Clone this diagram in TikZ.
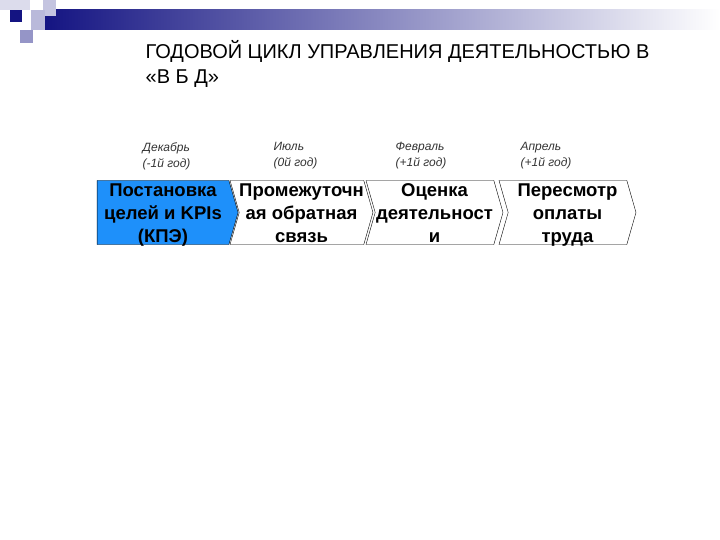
\documentclass[tikz,border=0pt]{standalone}
\usepackage{fontspec}
\setmainfont{Liberation Sans}
\usetikzlibrary{shapes.symbols}
\definecolor{stageblue}{RGB}{30,144,250}
\definecolor{barnavy}{RGB}{20,20,130}

\begin{document}
\begin{tikzpicture}
            [x=1pt, y=1pt, semithick,
             stage/.style={shape=signal, draw=black, thin, signal to=east, signal from=west,
                           signal pointer angle=148, minimum height=64pt, minimum width=137pt,
                           inner sep=0pt, align=center, text height=62pt, text depth=2pt,
                           font=\fontsize{18.5}{23}\selectfont\bfseries},
             month/.style={anchor=north west, align=left, text=black!80,
                           font=\fontsize{12}{16}\selectfont\itshape}]
            \useasboundingbox (0, 0) rectangle (720, -540);

            % decoration top left
            \shade[left color=barnavy, right color=white, draw=none] (44, -10) rectangle (720, -30);
            \fill[barnavy!15] (0, 0) rectangle (30, -10);
            \fill[barnavy!25] (43, 0) rectangle (56, -16);
            \fill[barnavy!30] (31, -10) rectangle (45, -30);
            \fill[barnavy] (10, -10) rectangle (22, -22);
            \fill[barnavy!45] (20, -30) rectangle (33, -43);

            \node[anchor=west, align=left, font=\fontsize{20}{25}\selectfont] (title) at (142, -64)
                {ГОДОВОЙ ЦИКЛ УПРАВЛЕНИЯ ДЕЯТЕЛЬНОСТЬЮ В\\«В Б Д»};

            \node[month] (m1) at (139, -139) {Декабрь\\(-1й год)};
            \node[month] (m2) at (270, -139) {Июль\\(0й год)};
            \node[month] (m3) at (392, -139) {Февраль\\(+1й год)};
            \node[month] (m4) at (517, -139) {Апрель\\(+1й год)};

            \node[stage] (s2) at (301.5, -212.5) {Промежуточн\\ая обратная\\связь};
            \node[stage] (s3) at (434.5, -212.5) {Оценка\\деятельност\\и};
            \node[stage] (s4) at (567.5, -212.5) {Пересмотр\\оплаты\\труда};
            \node[stage, fill=stageblue, signal from=nowhere, minimum width=141pt] (s1) at (163, -212.5)
                {Постановка\\целей и KPIs\\(КПЭ)};
        \end{tikzpicture}
\end{document}
